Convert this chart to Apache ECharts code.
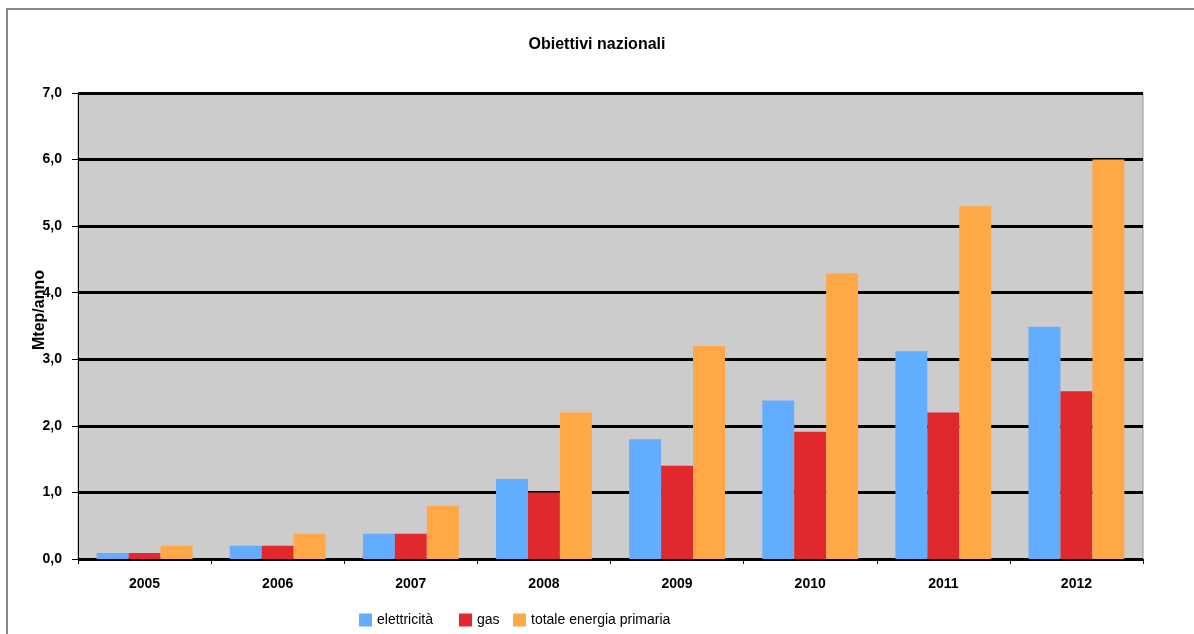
<!DOCTYPE html>
<html>
<head>
<meta charset="utf-8">
<script src="https://cdn.jsdelivr.net/npm/echarts@6/dist/echarts.min.js"></script>
<style>
html, body { margin: 0; padding: 0; background: #fff; }
#chart { width: 1194px; height: 634px; }
</style>
</head>
<body>
<div id="chart"></div>
<script>
// dati
var anni = ['2005', '2006', '2007', '2008', '2009', '2010', '2011', '2012'];
var elettricita = [0.09, 0.2, 0.38, 1.2, 1.8, 2.38, 3.12, 3.49];
var gas = [0.09, 0.2, 0.38, 1.0, 1.4, 1.91, 2.2, 2.52];
var totale = [0.2, 0.38, 0.8, 2.2, 3.2, 4.29, 5.3, 6.0];
var yTicks = [0, 1, 2, 3, 4, 5, 6, 7];

var chart = echarts.init(document.getElementById('chart'));
var font = 'Liberation Sans, Arial, sans-serif';

function legendAt(left, name) {
    return {
        left: left,
        top: 613,
        padding: 0,
        itemWidth: 13,
        itemHeight: 13,
        itemGap: 5,
        icon: 'rect',
        data: [name],
        textStyle: { fontFamily: font, fontSize: 14, color: '#000' }
    };
}

chart.setOption({
    color: ['#62adff', '#e0282e', '#ffa845'],
    animation: false,
    title: {
        text: 'Obiettivi nazionali',
        left: 'center',
        top: 32,
        textStyle: { fontFamily: font, fontSize: 16, fontWeight: 'bold', color: '#000' }
    },
    graphic: [{
        type: 'rect',
        shape: { x: 7, y: 9, width: 1200, height: 700 },
        style: { fill: 'none', stroke: '#888', lineWidth: 2 },
        silent: true
    }],
    legend: [
        legendAt(359, 'elettricità'),
        legendAt(459, 'gas'),
        legendAt(513, 'totale energia primaria')
    ],
    grid: {
        left: 78,
        right: 51,
        top: 93,
        bottom: 75,
        show: true,
        backgroundColor: '#cccccc',
        borderColor: '#999',
        borderWidth: 1
    },
    xAxis: {
        type: 'category',
        data: anni,
        axisLine: { lineStyle: { color: '#000', width: 1 } },
        axisTick: { show: true, length: 5, lineStyle: { color: '#000' } },
        axisLabel: { fontFamily: font, fontSize: 14, fontWeight: 'bold', color: '#000', margin: 18 }
    },
    yAxis: {
        type: 'value',
        min: yTicks[0],
        max: yTicks[yTicks.length - 1],
        interval: 1,
        name: 'Mtep/anno',
        nameLocation: 'middle',
        nameGap: 30,
        nameMoveOverlap: false,
        nameTextStyle: { fontFamily: font, fontSize: 16, fontWeight: 'bold', color: '#000', padding: [0, 0, 0, 32] },
        axisLine: { show: true, lineStyle: { color: '#000', width: 1 } },
        axisTick: { show: true, length: 6, lineStyle: { color: '#000' } },
        axisLabel: {
            fontFamily: font, fontSize: 14, fontWeight: 'bold', color: '#000', margin: 16,
            formatter: function (v) { return v.toFixed(1).replace('.', ','); }
        },
        splitLine: { show: true, lineStyle: { color: '#000', width: 3 } }
    },
    series: [
        { name: 'elettricità', type: 'bar', data: elettricita, barGap: '0%', barCategoryGap: '28%' },
        { name: 'gas', type: 'bar', data: gas, barGap: '0%', barCategoryGap: '28%' },
        { name: 'totale energia primaria', type: 'bar', data: totale, barGap: '0%', barCategoryGap: '28%' }
    ]
});
</script>
</body>
</html>
